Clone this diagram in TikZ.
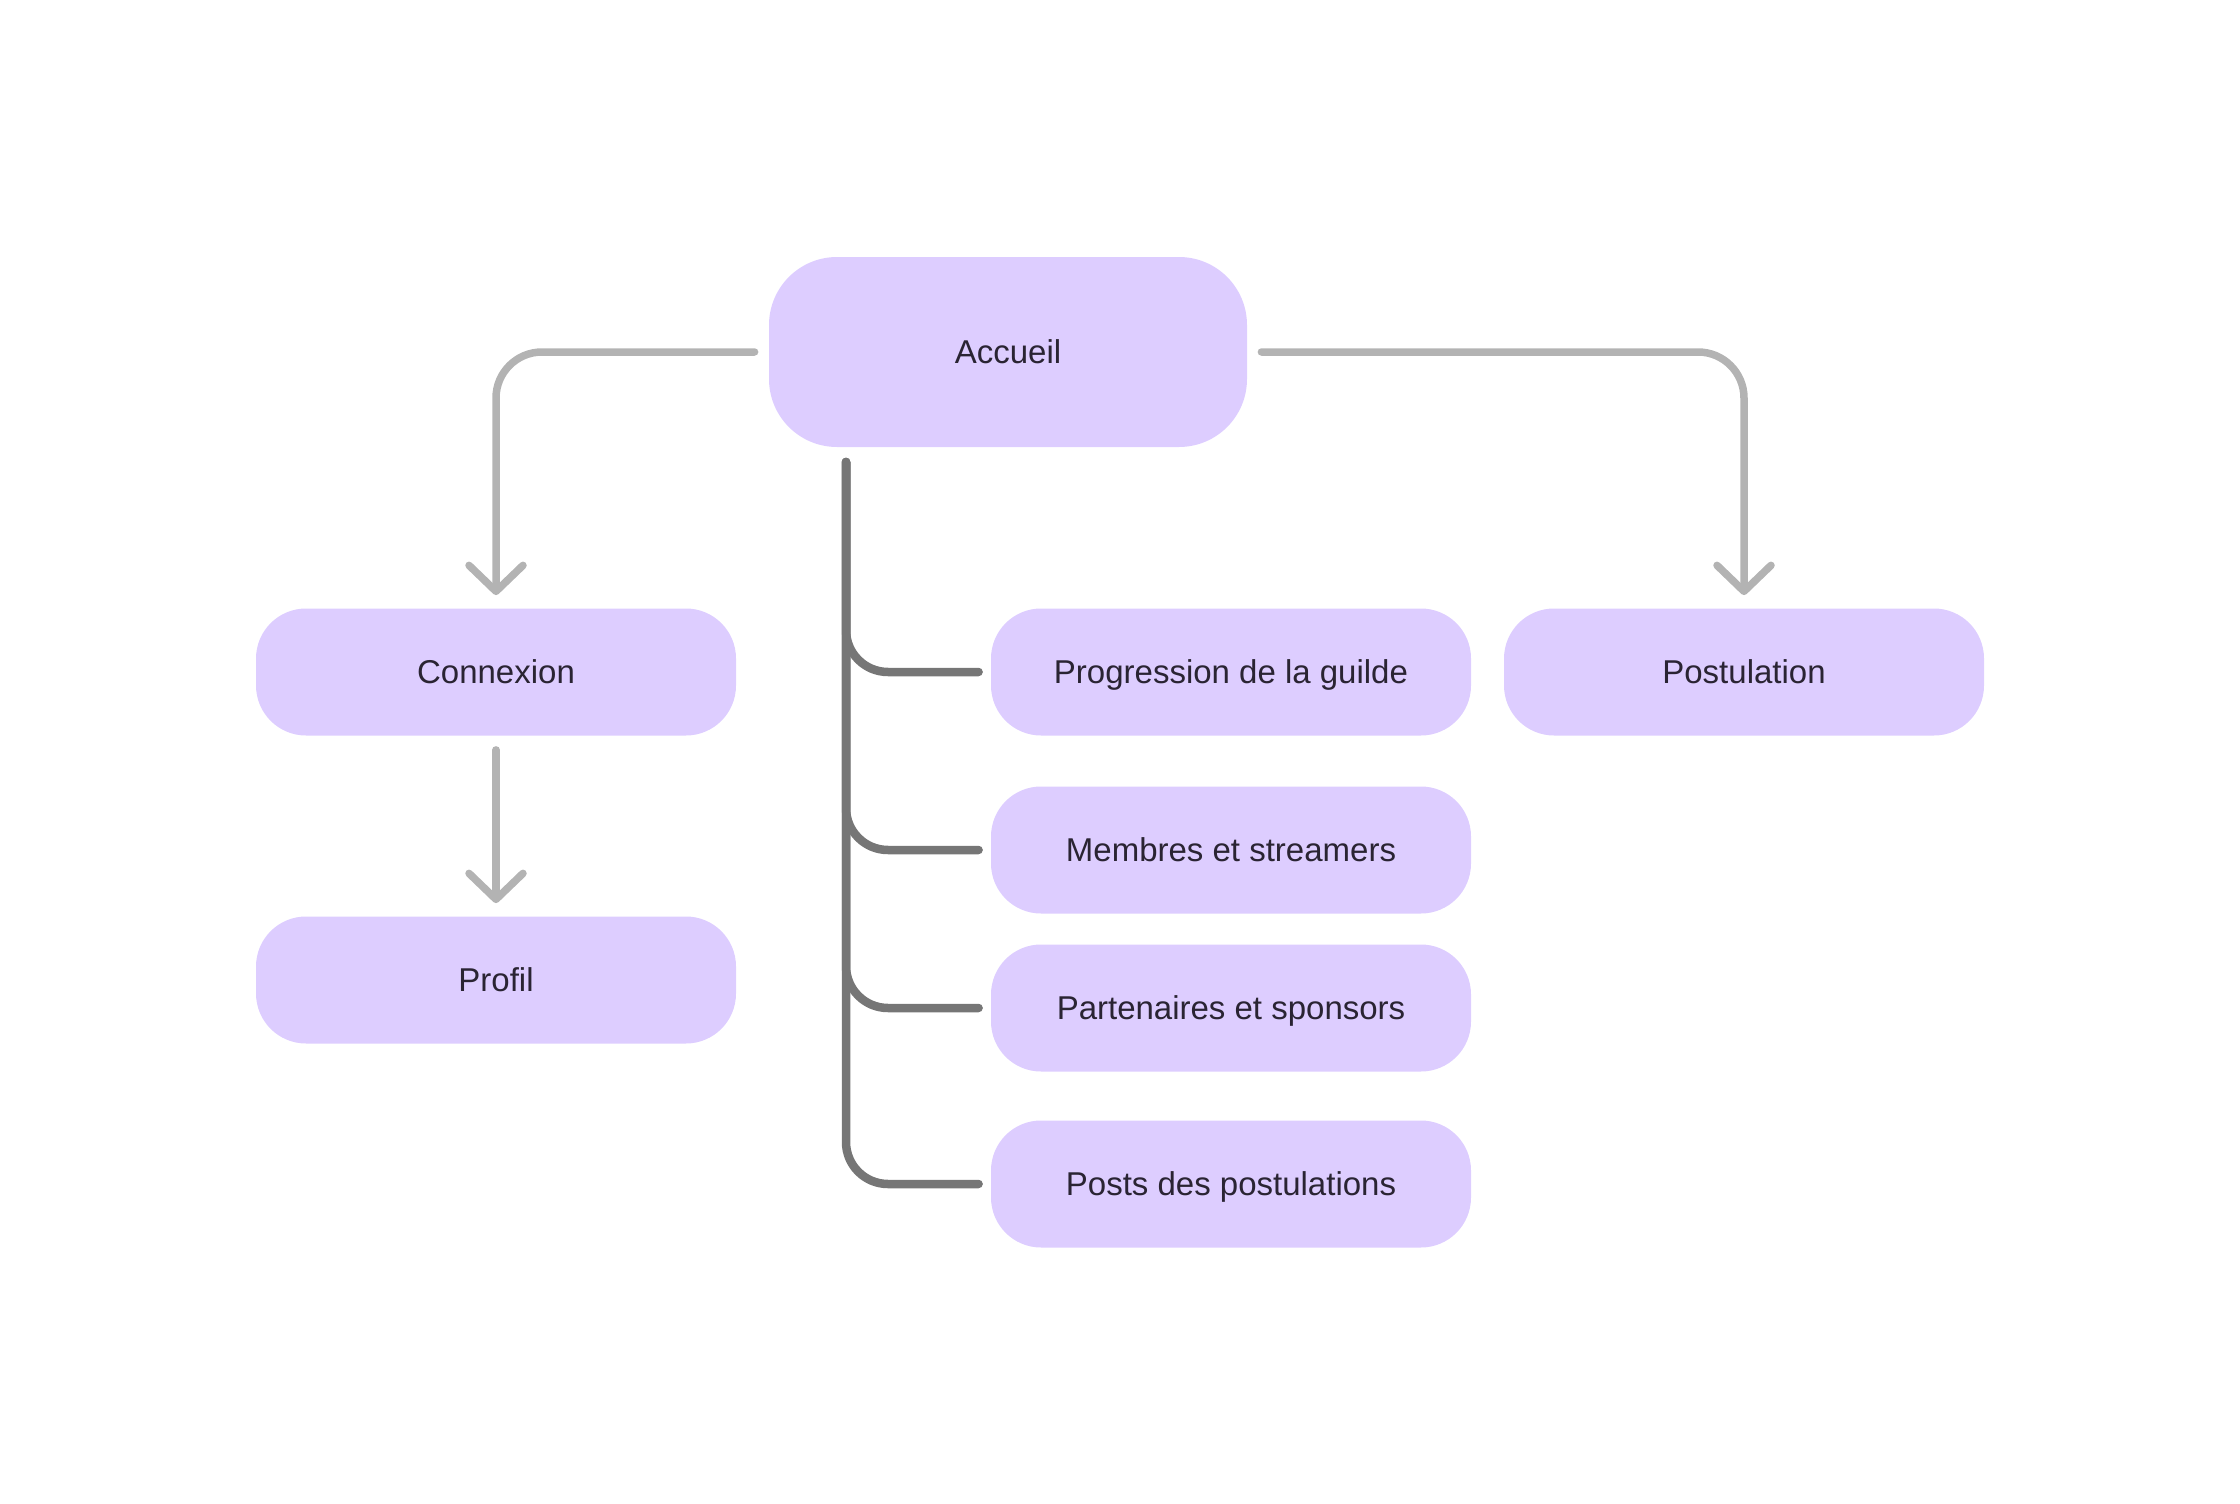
\documentclass[tikz,border=0pt]{standalone}
\usepackage{fontspec}
\setmainfont{Liberation Sans}
\usetikzlibrary{arrows.meta}
\definecolor{boxfill}{HTML}{DDCDFF}
\definecolor{linegray}{HTML}{B3B3B3}
\definecolor{trunkgray}{HTML}{767676}
\definecolor{txt}{HTML}{2A2433}
\begin{document}
\begin{tikzpicture}[x=0.5pt,y=-0.5pt,
  box/.style={fill=boxfill, rounded corners=25pt, minimum width=240pt, minimum height=63.5pt, inner sep=0pt, text=txt, font=\fontsize{16.5}{19}\selectfont, text height=11.8pt, text depth=0pt},
  bigbox/.style={box, rounded corners=34pt, minimum width=239pt, minimum height=95pt},
  flow/.style={draw=linegray, line width=3.75pt, line cap=round, line join=round, rounded corners=23pt, -{Straight Barb[length=13pt,width=27pt,round]}},
  trunk/.style={draw=trunkgray, line width=4.25pt, line cap=round, line join=round, rounded corners=21pt}]
\useasboundingbox (0,0) rectangle (2240,1504);
\node[bigbox] (acc) at (1008,352) {Accueil};
\node[box] (conn) at (496,672) {Connexion};
\node[box] (prof) at (496,980) {Profil};
\node[box] (prog) at (1231,672) {Progression de la guilde};
\node[box] (memb) at (1231,850) {Membres et streamers};
\node[box] (part) at (1231,1008) {Partenaires et sponsors};
\node[box] (posts) at (1231,1184) {Posts des postulations};
\node[box] (post) at (1744,672) {Postulation};
\coordinate (tt) at (846,462);
\draw[flow] ([xshift=-7pt]acc.west) -| ([yshift=6.5pt]conn.north);
\draw[flow] ([xshift=7pt]acc.east) -| ([yshift=6.5pt]post.north);
\draw[flow] ([yshift=-7pt]conn.south) -- ([yshift=6.5pt]prof.north);
\draw[trunk] (tt) |- ([xshift=-6pt]posts.west);
\draw[trunk] (tt) |- ([xshift=-6pt]prog.west);
\draw[trunk] (tt) |- ([xshift=-6pt]memb.west);
\draw[trunk] (tt) |- ([xshift=-6pt]part.west);
\end{tikzpicture}
\end{document}
